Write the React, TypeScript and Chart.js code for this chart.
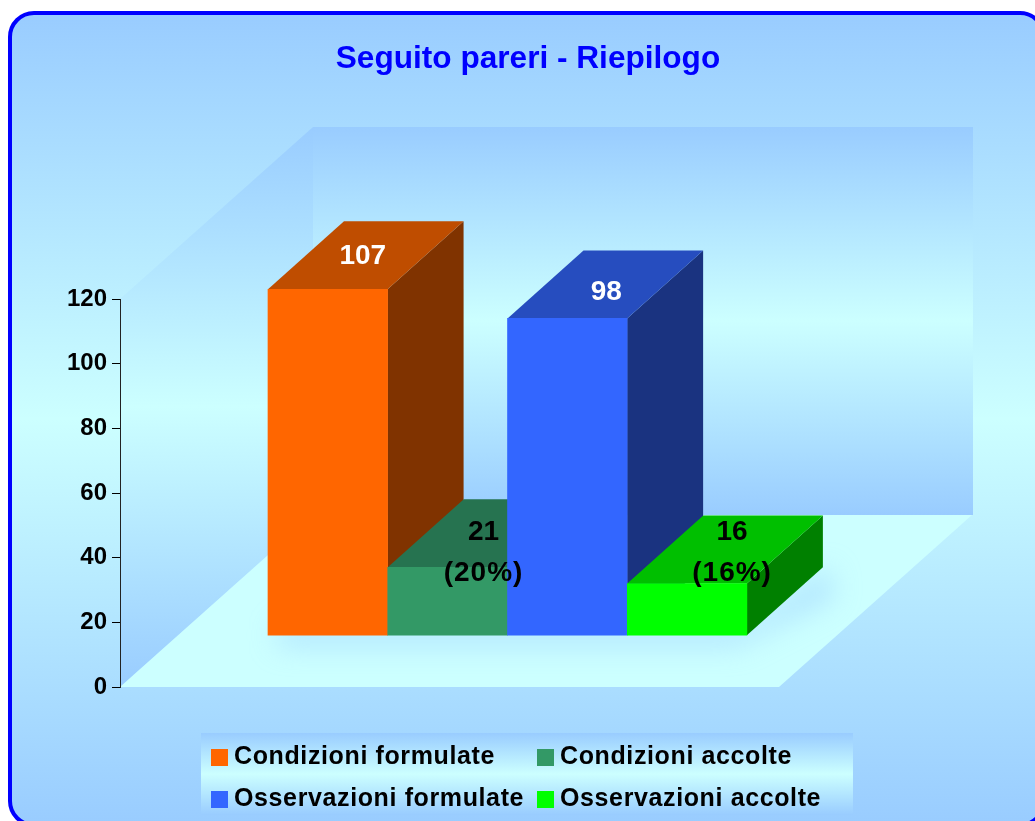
import React, { useEffect, useRef } from "react";
import { Chart, registerables } from "chart.js";

Chart.register(...registerables);

const titleText = "Seguito pareri - Riepilogo";
const seriesNames = ["Condizioni formulate", "Condizioni accolte", "Osservazioni formulate", "Osservazioni accolte"];
const seriesValues = [107, 21, 98, 16];
const seriesPercents = ["", "(20%)", "", "(16%)"];
const seriesSlots = [1, 2, 3, 4];
const frontColors = ["#FF6600", "#339966", "#3366FF", "#00FF00"];
const topColors = ["#BF4D00", "#267350", "#264DBF", "#00BF00"];
const sideColors = ["#803300", "#1A4D33", "#1A3380", "#008000"];
const labelColors = ["#FFFFFF", "#000000", "#FFFFFF", "#000000"];

const FONT = "'Liberation Sans', Arial, sans-serif";
const BAR_DX = 76, BAR_DY = 68, WALL_DX = 193, WALL_DY = 172, PLOT_W = 659;
const LABEL_NUDGE = [[-3, 1], [-2, 19], [1, 8], [7, 3]];
const BLUE = "#99CCFF", PALE = "#CCFFFF";

function tri(ctx: CanvasRenderingContext2D, y0: number, y1: number) {
  const g = ctx.createLinearGradient(0, y0, 0, y1);
  g.addColorStop(0, BLUE);
  g.addColorStop(0.5, PALE);
  g.addColorStop(1, BLUE);
  return g;
}

function poly(ctx: CanvasRenderingContext2D, pts: number[][], fill: any) {
  ctx.beginPath();
  pts.forEach((p, i) => (i ? ctx.lineTo(p[0], p[1]) : ctx.moveTo(p[0], p[1])));
  ctx.closePath();
  ctx.fillStyle = fill;
  ctx.fill();
}

const scenePlugin = {
  id: "scene",
  beforeDraw(chart: any) {
    const ctx: CanvasRenderingContext2D = chart.ctx;
    const L = chart.scales.y.left + chart.scales.y.width;
    const y0 = chart.scales.y.getPixelForValue(0);
    const yTop = chart.scales.y.getPixelForValue(120);
    ctx.save();
    // panel
    ctx.beginPath();
    ctx.roundRect(10, 13, 1034, 812, 24);
    ctx.fillStyle = tri(ctx, 13, 825);
    ctx.fill();
    ctx.lineWidth = 4;
    ctx.strokeStyle = "#0000FF";
    ctx.stroke();
    // left wall
    poly(ctx, [[L, yTop], [L + WALL_DX, yTop - WALL_DY], [L + WALL_DX, y0 - WALL_DY], [L, y0]], tri(ctx, yTop - WALL_DY, y0));
    // back wall
    ctx.fillStyle = tri(ctx, yTop - WALL_DY, y0 - WALL_DY);
    ctx.fillRect(L + WALL_DX, yTop - WALL_DY, PLOT_W + 1, y0 - yTop);
    // floor
    const floor = [[L, y0], [L + PLOT_W, y0], [L + PLOT_W + WALL_DX, y0 - WALL_DY], [L + WALL_DX, y0 - WALL_DY]];
    poly(ctx, floor, PALE);
    // soft shadow of the bars on the floor
    const first = chart.getDatasetMeta(0).data[0];
    const last = chart.getDatasetMeta(3).data[0];
    const bx0 = first.x - first.width / 2, bx1 = last.x + last.width / 2, by = first.base;
    ctx.save();
    ctx.beginPath();
    floor.forEach((p, i) => (i ? ctx.lineTo(p[0], p[1]) : ctx.moveTo(p[0], p[1])));
    ctx.closePath();
    ctx.clip();
    ctx.filter = "blur(14px)";
    poly(ctx, [[bx0 + 10, by - 10], [bx1, by - 10], [bx1 + BAR_DX + 6, by - BAR_DY], [bx1 + BAR_DX + 10, by - BAR_DY + 30], [bx1 - 10, by + 10], [bx0 + 10, by + 10]], "rgba(153,204,255,0.55)");
    ctx.restore();
    ctx.restore();
  },
  beforeDatasetDraw(chart: any, args: any) {
    const ctx: CanvasRenderingContext2D = chart.ctx;
    const i = args.index;
    const b = args.meta.data[0];
    const l = b.x - b.width / 2, r = b.x + b.width / 2, t = b.y, bot = b.base;
    ctx.save();
    poly(ctx, [[r, t], [r + BAR_DX, t - BAR_DY], [r + BAR_DX, bot - BAR_DY], [r, bot]], sideColors[i]);
    poly(ctx, [[l, t], [l + BAR_DX, t - BAR_DY], [r + BAR_DX, t - BAR_DY], [r, t]], topColors[i]);
    ctx.restore();
  },
  afterDraw(chart: any) {
    const ctx: CanvasRenderingContext2D = chart.ctx;
    ctx.save();
    // value labels
    ctx.textAlign = "center";
    ctx.textBaseline = "middle";
    ctx.font = `bold 28px ${FONT}`;
    chart.data.datasets.forEach((ds: any, i: number) => {
      const b = chart.getDatasetMeta(i).data[0];
      const cx = b.x + BAR_DX / 2 + LABEL_NUDGE[i][0];
      const cy = b.y - BAR_DY / 2 + LABEL_NUDGE[i][1];
      ctx.fillStyle = labelColors[i];
      if (seriesPercents[i]) {
        (ctx as any).letterSpacing = "0px";
        ctx.fillText(String(seriesValues[i]), cx, cy - 20);
        (ctx as any).letterSpacing = "1px";
        ctx.fillText(seriesPercents[i], cx, cy + 21);
      } else {
        (ctx as any).letterSpacing = "0px";
        ctx.fillText(String(seriesValues[i]), cx, cy);
      }
    });
    // legend
    ctx.fillStyle = tri(ctx, 733, 815);
    ctx.fillRect(201, 733, 652, 82);
    ctx.textAlign = "left";
    ctx.textBaseline = "alphabetic";
    ctx.font = `bold 25px ${FONT}`;
    (ctx as any).letterSpacing = "0.62px";
    chart.data.datasets.forEach((ds: any, i: number) => {
      const col = i % 2, row = Math.floor(i / 2);
      const sx = col ? 537 : 211, sy = row ? 791 : 749;
      ctx.fillStyle = ds.backgroundColor;
      ctx.fillRect(sx, sy, 17, 17);
      ctx.fillStyle = "#000000";
      ctx.fillText(ds.label, sx + 23, sy + 15);
    });
    ctx.restore();
  },
};

export default function App() {
  const ref = useRef<HTMLCanvasElement>(null);
  useEffect(() => {
    const chart = new Chart(ref.current!, {
      type: "bar",
      data: {
        datasets: seriesNames.map((name, i) => ({
          label: name,
          data: [{ x: seriesSlots[i], y: seriesValues[i] }],
          backgroundColor: frontColors[i],
          borderWidth: 0,
          barThickness: 119.6,
          grouped: false,
          clip: false,
          yAxisID: "yBars",
          order: seriesNames.length - i,
        })),
      },
      options: {
        animation: false,
        responsive: false,
        layout: { padding: { left: 21, right: 0, top: 0, bottom: 134 } },
        events: [],
        plugins: {
          legend: { display: false },
          tooltip: { enabled: false },
          title: {
            display: true,
            text: titleText,
            color: "#0000FF",
            font: { family: FONT, size: 31.6, weight: "bold", lineHeight: 1 },
            padding: { top: 43, bottom: 224.4 },
          },
        },
        scales: {
          x: { type: "linear", display: false, offset: false, min: -0.735, max: 6.905 },
          y: {
            position: "left",
            min: 0,
            max: 120,
            afterFit: (s: any) => { s.width = 99; },
            grid: { drawOnChartArea: false, drawTicks: true, tickLength: 8, color: "#000000", tickColor: "#000000" },
            border: { display: true, color: "#222222", width: 1 },
            ticks: { stepSize: 20, padding: 5, color: "#000000", font: { family: FONT, size: 24, weight: "bold" } },
          },
          yBars: { axis: "y", display: false, min: -16, max: 104 },
        },
      } as any,
      plugins: [scenePlugin],
    } as any);
    return () => chart.destroy();
  }, []);
  return <canvas ref={ref} width={1035} height={821} style={{ position: "absolute", left: 0, top: 0, display: "block" }} />;
}
